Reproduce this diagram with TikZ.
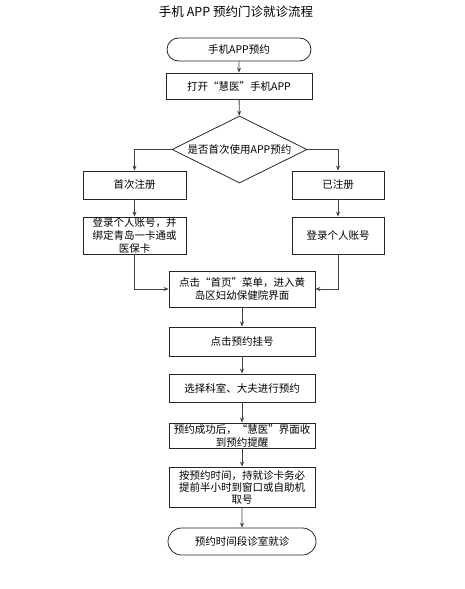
\documentclass[tikz,border=0pt]{standalone}
\usepackage{fontspec}
\setmainfont{Noto Sans CJK SC}
\usetikzlibrary{shapes.geometric,shapes.misc,arrows.meta}
\begin{document}
\begin{tikzpicture}[x=1pt,y=-1pt,
  every node/.style={font=\fontsize{10.5}{13}\selectfont, inner sep=0pt, align=center, text=black},
  box/.style={draw=black!85, line width=0.8pt, rectangle},
  term/.style={draw=black!85, line width=0.8pt, rounded rectangle},
  conn/.style={draw=black!75, line width=0.8pt, -{Stealth[length=5pt,width=4pt]}}
]
\useasboundingbox (0,0) rectangle (465,589);
\node[font=\fontsize{12.5}{14}\selectfont] (title) at (236,12) {手机 APP 预约门诊就诊流程};
\node[term, minimum width=144pt, minimum height=23pt] (s) at (239,49.5) {手机APP预约};
\node[box, minimum width=146pt, minimum height=26pt] (b2) at (239,86) {打开“慧医”手机APP};
\node[draw=black!85, line width=0.8pt, shape=diamond, minimum width=135pt, minimum height=67pt, inner sep=0pt] (d) at (239.5,149.5) {};
\node (dt) at (d.center) {是否首次使用APP预约};
\node[box, minimum width=103pt, minimum height=28pt] (f1) at (134.5,185) {首次注册};
\node[box, minimum width=92pt, minimum height=28pt] (r1) at (338,185) {已注册};
\node[box, minimum width=103pt, minimum height=37pt] (f2) at (134.5,235.5) {登录个人账号，并\\绑定青岛一卡通或\\医保卡};
\node[box, minimum width=92pt, minimum height=37pt] (r2) at (338,235.5) {登录个人账号};
\node[box, minimum width=146pt, minimum height=36pt] (b3) at (242,289) {点击“首页”菜单，进入黄\\岛区妇幼保健院界面};
\node[box, minimum width=146pt, minimum height=29pt] (b4) at (242,341.5) {点击预约挂号};
\node[box, minimum width=146pt, minimum height=28pt] (b5) at (242,388) {选择科室、大夫进行预约};
\node[box, minimum width=146pt, minimum height=25pt] (b6) at (242,435.5) {预约成功后，“慧医”界面收\\到预约提醒};
\node[box, minimum width=146pt, minimum height=40pt, font=\fontsize{10.5}{12}\selectfont] (b7) at (242,487) {按预约时间，持就诊卡务必\\提前半小时到窗口或自助机\\取号};
\node[term, minimum width=148pt, minimum height=27pt] (e) at (242,541.5) {预约时间段诊室就诊};
\draw[conn] (s) -- (b2);
\draw[conn] (b2) -- (d);
\draw[conn] (d.west) -| (f1.north);
\draw[conn] (d.east) -| (r1.north);
\draw[conn] (f1) -- (f2);
\draw[conn] (r1) -- (r2);
\draw[conn] (f2.south) |- (b3.west);
\draw[conn] (r2.south) |- (b3.east);
\draw[conn] (b3) -- (b4);
\draw[conn] (b4) -- (b5);
\draw[conn] (b5) -- (b6);
\draw[conn] (b6) -- (b7);
\draw[conn] (b7) -- (e);
\end{tikzpicture}
\end{document}
